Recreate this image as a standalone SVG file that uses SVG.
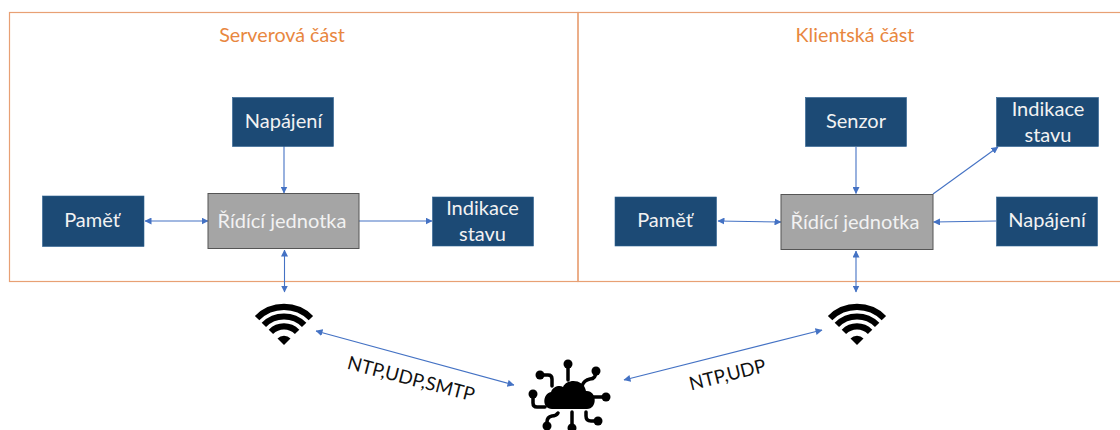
<svg xmlns="http://www.w3.org/2000/svg" width="1120" height="430" viewBox="0 0 1120 430">
<style>
text{font-family:Lato,"Liberation Sans",sans-serif;text-anchor:middle}
.panel{fill:none;stroke:#e8a074;stroke-width:1.200}
.title{fill:#e8873f;font-size:19.700px}
.box{fill:#1c4a75;stroke:#2e6291;stroke-width:.6}
.ctl{fill:#a5a5a5;stroke:#555;stroke-width:1}
.w{fill:#f2f2f2;font-size:20px}
.c{fill:none;stroke:#4472c4;stroke-width:1.100;marker-end:url(#a)}
.d{marker-start:url(#s)}
.lbl{fill:#111;font-size:18.800px}
.k{fill:#000}
.a{fill:none;stroke:#000;stroke-width:6.200}
.l{fill:none;stroke:#000;stroke-width:3.500;stroke-linecap:round;stroke-linejoin:round}
</style>
<defs>
<marker id="a" markerWidth="7" markerHeight="7" refX="6.500" refY="3.500" orient="auto" markerUnits="userSpaceOnUse"><path d="M0 0L7 3.500L0 7z" fill="#4472c4"/></marker>
<marker id="s" markerWidth="7" markerHeight="7" refX=".5" refY="3.500" orient="auto" markerUnits="userSpaceOnUse"><path d="M7 0L0 3.500L7 7z" fill="#4472c4"/></marker>
<g id="wifi">
<path class="a" d="M-26.900 -26.900A38 38 0 0 1 26.900 -26.900"/>
<path class="a" d="M-20.150 -20.150A28.500 28.500 0 0 1 20.150 -20.150"/>
<path class="a" d="M-13.100 -13.100A18.500 18.500 0 0 1 13.100 -13.100"/>
<path class="k" d="M0 0L-6.500 -6.500A9 9 0 0 1 6.500 -6.500z"/>
</g>
</defs>
<g id="panels">
<rect class="panel" x="9.500" y="12.500" width="568.500" height="269"/>
<rect class="panel" x="578" y="12.500" width="560" height="269"/>
</g>
<g id="connectors">
<line class="c" x1="284" y1="146" x2="284" y2="193"/>
<line class="c d" x1="145" y1="221" x2="208" y2="221"/>
<line class="c" x1="358" y1="221" x2="432" y2="221"/>
<line class="c d" x1="284.500" y1="250" x2="284.500" y2="292"/>
<line class="c d" x1="316" y1="331" x2="514" y2="385"/>
<line class="c d" x1="624" y1="380" x2="822" y2="330"/>
<line class="c" x1="856" y1="147" x2="856" y2="193.500"/>
<line class="c d" x1="718" y1="221" x2="781" y2="222"/>
<line class="c" x1="933" y1="194" x2="998" y2="147"/>
<line class="c" x1="996" y1="221" x2="933.500" y2="222"/>
<line class="c d" x1="856" y1="251" x2="856" y2="292"/>
</g>
<g id="server-title"><text class="title" x="282" y="42">Serverová část</text></g>
<g id="client-title"><text class="title" x="855" y="42">Klientská část</text></g>
<g id="s-napajeni"><rect class="box" x="232.500" y="97.500" width="101" height="49"/><text class="w" x="283.500" y="128">Napájení</text></g>
<g id="s-pamet"><rect class="box" x="42.500" y="196" width="101.500" height="50.500"/><text class="w" x="92" y="227">Paměť</text></g>
<g id="s-ridici"><rect class="ctl" x="208" y="193.500" width="151" height="55"/><text class="w" x="282" y="228">Řídící jednotka</text></g>
<g id="s-indikace"><rect class="box" x="432.500" y="197" width="101" height="49"/><text class="w" x="482.500" y="215">Indikace</text><text class="w" x="482.500" y="241">stavu</text></g>
<g id="c-senzor"><rect class="box" x="805.500" y="97.500" width="101" height="49"/><text class="w" x="856" y="128">Senzor</text></g>
<g id="c-indikace"><rect class="box" x="996.500" y="97.500" width="102" height="49"/><text class="w" x="1048" y="116">Indikace</text><text class="w" x="1048" y="142">stavu</text></g>
<g id="c-pamet"><rect class="box" x="615" y="197" width="101.500" height="49"/><text class="w" x="665" y="227">Paměť</text></g>
<g id="c-ridici"><rect class="ctl" x="781" y="194.500" width="152" height="55"/><text class="w" x="855" y="229">Řídící jednotka</text></g>
<g id="c-napajeni"><rect class="box" x="996.500" y="197" width="101" height="49"/><text class="w" x="1047" y="227">Napájení</text></g>
<g id="wifi-server"><use href="#wifi" x="284" y="345"/></g>
<g id="wifi-client"><use href="#wifi" x="857" y="345"/></g>
<g id="cloud">
<path class="k" d="M552 409C542 409 542 394 551 392C553 386 560 385 563 387C567 378 584 379 586 391C597 390 598 409 587 409z"/>
<g class="l">
<path d="M568 364V380"/><path d="M540 375H548Q552 375 552 379V386"/><path d="M596 371Q596 379 590 379Q584 380 582 386"/>
<path d="M533 394V403Q533 407 537 407H545"/><path d="M593 397H606"/>
<path d="M547 426V422Q547 417 552 416Q556 416 558 413"/><path d="M572 412V428"/><path d="M586 412V416Q586 421 591 421H598"/>
</g>
<circle class="k" cx="568" cy="364" r="4.500"/><circle class="k" cx="540" cy="375" r="4.500"/><circle class="k" cx="596" cy="371" r="4.500"/>
<circle class="k" cx="533" cy="394" r="4.500"/><circle class="k" cx="606" cy="397" r="4.500"/><circle class="k" cx="598" cy="421" r="4.500"/>
<circle class="k" cx="547" cy="426" r="4.500"/><circle class="k" cx="572" cy="428" r="4.500"/>
</g>
<g id="label-server"><text class="lbl" transform="translate(409.500 385) rotate(14.600)">NTP,UDP,SMTP</text></g>
<g id="label-client"><text class="lbl" transform="translate(729 381) rotate(-14)">NTP,UDP</text></g>
</svg>
